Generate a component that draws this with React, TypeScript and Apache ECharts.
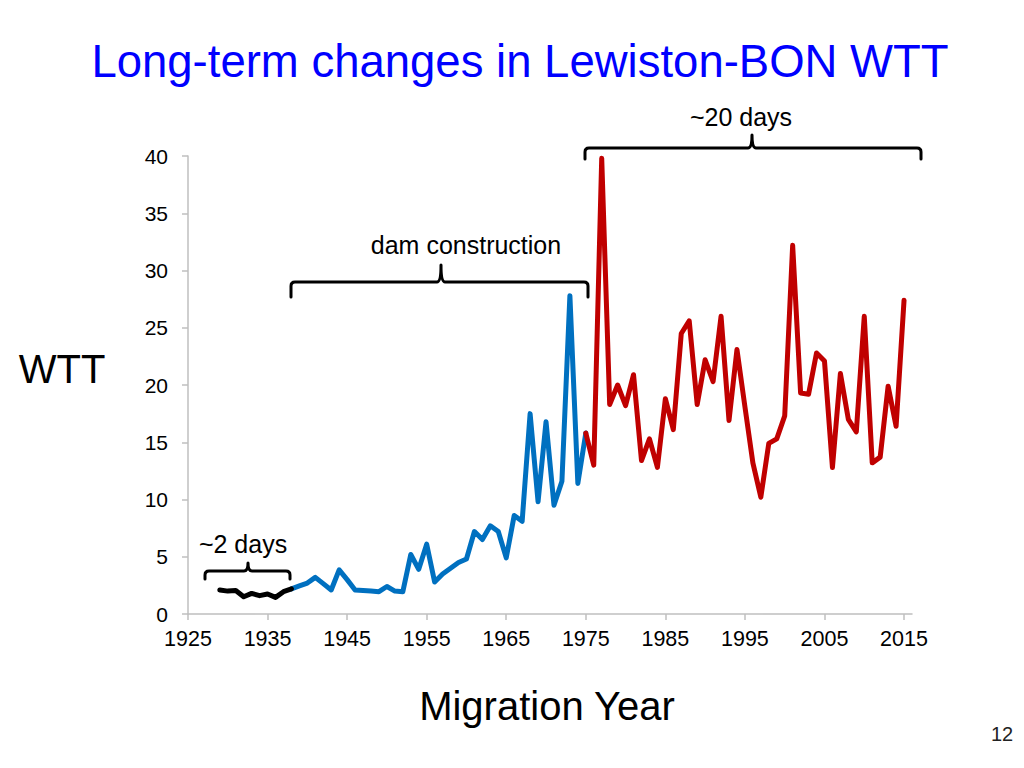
import React, { useEffect, useRef } from "react";
import * as echarts from "echarts";

// ---- data ----
const years: string[] = [];
for (let y = 1925; y <= 2016; y++) years.push(String(y));

const preDamStart = 1929;
const preDamValues = [2.1, 2.0, 2.05, 1.5, 1.8, 1.6, 1.75, 1.45, 1.95, 2.2];

const damStart = 1938;
const damValues = [
  2.2, 2.45, 2.7, 3.2, 2.65, 2.1, 3.85, 3.0, 2.1, 2.05,
  2.0, 1.95, 2.4, 2.0, 1.95, 5.2, 3.9, 6.1, 2.8, 3.5,
  4.0, 4.5, 4.8, 7.2, 6.5, 7.7, 7.2, 4.9, 8.6, 8.1,
  17.5, 9.8, 16.8, 9.5, 11.6, 27.8, 11.4, 15.8,
];

const postDamStart = 1975;
const postDamValues = [
  15.8, 13.0, 39.8, 18.3, 20.0, 18.2, 20.9, 13.4, 15.3, 12.8,
  18.8, 16.1, 24.5, 25.6, 18.3, 22.2, 20.3, 26.0, 16.9, 23.1,
  18.1, 13.2, 10.2, 14.9, 15.3, 17.3, 32.2, 19.3, 19.2, 22.8,
  22.1, 12.8, 21.0, 17.0, 15.9, 26.0, 13.2, 13.7, 19.9, 16.4,
  27.4,
];

const yTicks = [0, 5, 10, 15, 20, 25, 30, 35, 40];

const align = (start: number, vals: number[]) =>
  years.map((y) => {
    const i = Number(y) - start;
    return i >= 0 && i < vals.length ? vals[i] : null;
  });

const FONT = "'Liberation Sans', Arial, Helvetica, sans-serif";

const bracketPath = (x0: number, x1: number, xm: number, yl: number, yb: number, yt: number) =>
  `M ${x0} ${yb} L ${x0} ${yl + 4} Q ${x0} ${yl} ${x0 + 4} ${yl} L ${xm - 4} ${yl} Q ${xm} ${yl} ${xm} ${yt} Q ${xm} ${yl} ${xm + 4} ${yl} L ${x1 - 4} ${yl} Q ${x1} ${yl} ${x1} ${yl + 4} L ${x1} ${yb}`;

let registered = false;
function registerShapes() {
  if (registered) return;
  registered = true;
  echarts.graphic.registerShape(
    "bracketTop",
    echarts.graphic.extendPath(bracketPath(585, 921, 752, 148, 159, 135), {}) as any
  );
  echarts.graphic.registerShape(
    "bracketDam",
    echarts.graphic.extendPath(bracketPath(291, 588, 441, 282, 297, 265), {}) as any
  );
  echarts.graphic.registerShape(
    "bracketPre",
    echarts.graphic.extendPath(bracketPath(205, 290, 248, 571, 579, 563), {}) as any
  );
}

export default function App() {
  const ref = useRef<HTMLDivElement>(null);

  useEffect(() => {
    if (!ref.current) return;
    registerShapes();
    const chart = echarts.init(ref.current, undefined, { renderer: "svg" });
    const axisColor = "#bfbfbf";
    const bracketStyle = { stroke: "#000", lineWidth: 3, fill: "none", lineJoin: "round", lineCap: "round" };
    chart.setOption({
      animation: false,
      backgroundColor: "#ffffff",
      grid: { left: 188, right: 112, top: 156, bottom: 154, containLabel: false },
      xAxis: {
        type: "category",
        data: years,
        boundaryGap: false,
        axisLine: { lineStyle: { color: axisColor, width: 1.5 } },
        axisTick: { show: true, interval: 9, length: 6, lineStyle: { color: axisColor, width: 1.5 } },
        axisLabel: { interval: 9, fontSize: 21.5, color: "#000", margin: 14, fontFamily: FONT },
        splitLine: { show: false },
      },
      yAxis: {
        type: "value",
        min: yTicks[0],
        max: yTicks[yTicks.length - 1],
        interval: 5,
        axisLine: { show: true, lineStyle: { color: axisColor, width: 1.5 } },
        axisTick: { show: true, length: 6, lineStyle: { color: axisColor, width: 1.5 } },
        axisLabel: { fontSize: 21, color: "#000", margin: 20, fontFamily: FONT },
        splitLine: { show: false },
      },
      series: [
        {
          name: "pre-dam",
          type: "line",
          data: align(preDamStart, preDamValues),
          symbol: "none",
          connectNulls: false,
          lineStyle: { color: "#000000", width: 5, cap: "round", join: "round" },
          z: 3,
        },
        {
          name: "dam construction",
          type: "line",
          data: align(damStart, damValues),
          symbol: "none",
          connectNulls: false,
          lineStyle: { color: "#0070C0", width: 5, cap: "round", join: "round" },
          z: 2,
        },
        {
          name: "post-dam",
          type: "line",
          data: align(postDamStart, postDamValues),
          symbol: "none",
          connectNulls: false,
          lineStyle: { color: "#C00000", width: 5, cap: "round", join: "round" },
          z: 2,
        },
      ],
      graphic: [
        {
          type: "text",
          x: 520,
          y: 61,
          style: {
            text: "Long-term changes in Lewiston-BON WTT",
            fill: "#0000FF",
            font: `45.5px ${FONT}`,
            textAlign: "center",
            textVerticalAlign: "middle",
          },
        },
        {
          type: "text",
          x: 741,
          y: 117,
          style: { text: "~20 days", fill: "#000", font: `25px ${FONT}`, textAlign: "center", textVerticalAlign: "middle" },
        },
        {
          type: "text",
          x: 466,
          y: 245,
          style: { text: "dam construction", fill: "#000", font: `25px ${FONT}`, textAlign: "center", textVerticalAlign: "middle" },
        },
        {
          type: "text",
          x: 243,
          y: 544,
          style: { text: "~2 days", fill: "#000", font: `25px ${FONT}`, textAlign: "center", textVerticalAlign: "middle" },
        },
        {
          type: "text",
          x: 62,
          y: 369,
          style: { text: "WTT", fill: "#000", font: `40px ${FONT}`, textAlign: "center", textVerticalAlign: "middle" },
        },
        {
          type: "text",
          x: 547,
          y: 706,
          style: { text: "Migration Year", fill: "#000", font: `40px ${FONT}`, textAlign: "center", textVerticalAlign: "middle" },
        },
        {
          type: "text",
          x: 1002,
          y: 734,
          style: { text: "12", fill: "#222", font: `20px ${FONT}`, textAlign: "center", textVerticalAlign: "middle" },
        },
        { type: "bracketTop", x: 0, y: 0, style: bracketStyle, z: 10 },
        { type: "bracketDam", x: 0, y: 0, style: bracketStyle, z: 10 },
        { type: "bracketPre", x: 0, y: 0, style: bracketStyle, z: 10 },
      ],
    });
    return () => chart.dispose();
  }, []);

  return (
    <div
      ref={ref}
      style={{ position: "fixed", left: 0, top: 0, width: 1024, height: 768, background: "#fff" }}
    />
  );
}
